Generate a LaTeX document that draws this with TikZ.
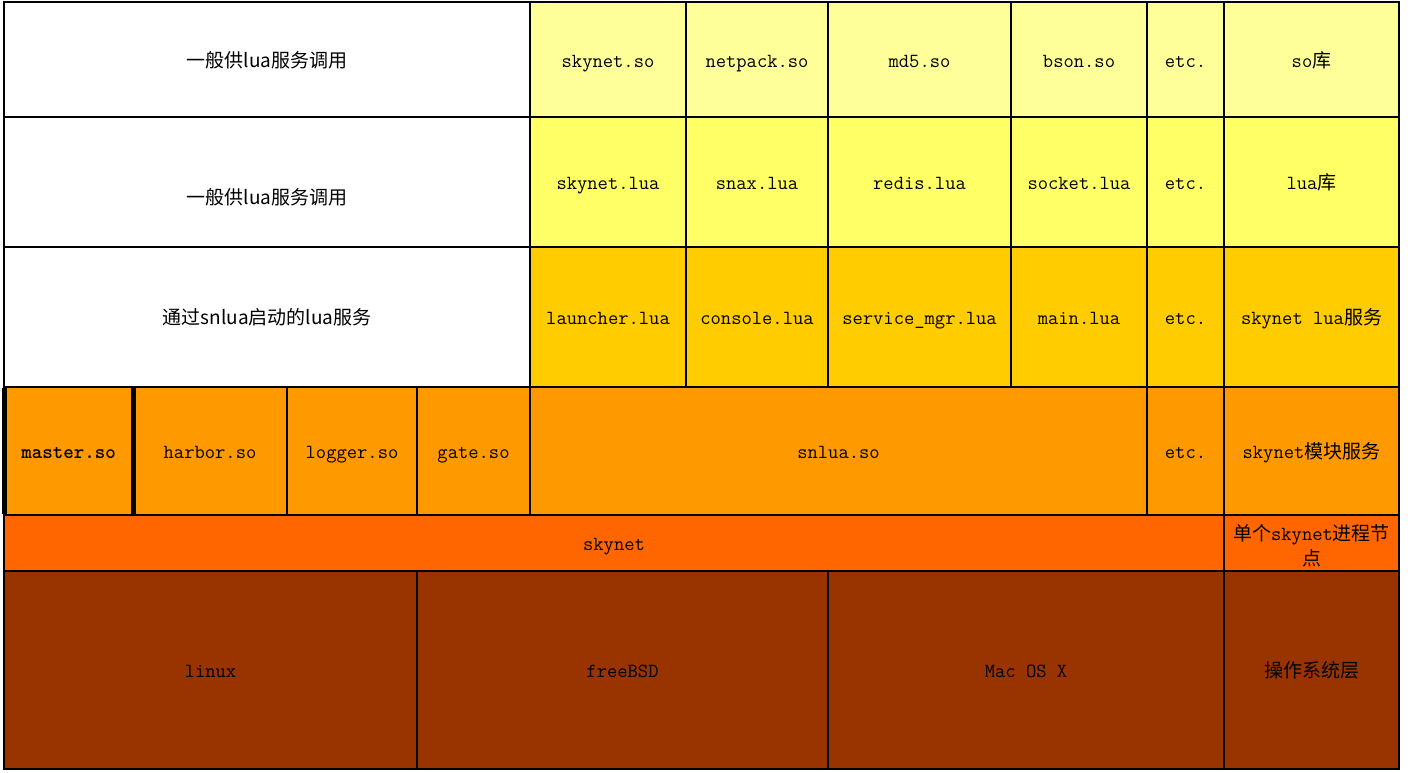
\documentclass[tikz,border=0pt]{standalone}
\usepackage{fontspec}
\newfontfamily\cjk{Noto Sans CJK SC}
\definecolor{soC}{HTML}{FFFF99}
\definecolor{luaC}{HTML}{FFFF66}
\definecolor{srvC}{HTML}{FFCC00}
\definecolor{modC}{HTML}{FF9900}
\definecolor{skyC}{HTML}{FF6600}
\definecolor{osC}{HTML}{993300}
\newcommand\zh[1]{{\cjk\fontsize{19}{22}\selectfont #1}}
\newcommand\cellbox[7]{\node[cellst, fill=#6, minimum width={#4-#2}, minimum height={#5-#3}] (#1) at ({(#2+#4)/2},{(#3+#5)/2}) {#7};}
\tikzset{
  cellst/.style={draw=black, line width=2pt, inner sep=0pt, outer sep=0pt, align=center,
    text height=18pt, text depth=3pt,
    font=\ttfamily\fontsize{20}{24}\selectfont},
}
\begin{document}
\begin{tikzpicture}[x=1pt,y=-1pt]
\useasboundingbox (0,0) rectangle (1408,772);
% row 1
\cellbox{w1}{4}{2}{530}{117}{white}{\zh{一般供lua服务调用}}
\cellbox{s1}{530}{2}{686}{117}{soC}{skynet.so}
\cellbox{s2}{686}{2}{828}{117}{soC}{netpack.so}
\cellbox{s3}{828}{2}{1011}{117}{soC}{md5.so}
\cellbox{s4}{1011}{2}{1147}{117}{soC}{bson.so}
\cellbox{s5}{1147}{2}{1224}{117}{soC}{etc.}
\cellbox{s6}{1224}{2}{1399}{117}{soC}{so\zh{库}}
% row 2
\cellbox{w2}{4}{117}{530}{247}{white}{\raisebox{-15pt}{\zh{一般供lua服务调用}}}
\cellbox{l1}{530}{117}{686}{247}{luaC}{skynet.lua}
\cellbox{l2}{686}{117}{828}{247}{luaC}{snax.lua}
\cellbox{l3}{828}{117}{1011}{247}{luaC}{redis.lua}
\cellbox{l4}{1011}{117}{1147}{247}{luaC}{socket.lua}
\cellbox{l5}{1147}{117}{1224}{247}{luaC}{etc.}
\cellbox{l6}{1224}{117}{1399}{247}{luaC}{lua\zh{库}}
% row 3
\cellbox{w3}{4}{247}{530}{387}{white}{\zh{通过snlua启动的lua服务}}
\cellbox{v1}{530}{247}{686}{387}{srvC}{launcher.lua}
\cellbox{v2}{686}{247}{828}{387}{srvC}{console.lua}
\cellbox{v3}{828}{247}{1011}{387}{srvC}{service\_mgr.lua}
\cellbox{v4}{1011}{247}{1147}{387}{srvC}{main.lua}
\cellbox{v5}{1147}{247}{1224}{387}{srvC}{etc.}
\cellbox{v6}{1224}{247}{1399}{387}{srvC}{skynet lua\zh{服务}}
% row 4
\cellbox{m1}{4}{387}{133}{515}{modC}{\bfseries master.so}
\cellbox{m2}{133}{387}{287}{515}{modC}{harbor.so}
\cellbox{m3}{287}{387}{417}{515}{modC}{logger.so}
\cellbox{m4}{417}{387}{530}{515}{modC}{gate.so}
\cellbox{m5}{530}{387}{1147}{515}{modC}{snlua.so}
\cellbox{m6}{1147}{387}{1224}{515}{modC}{etc.}
\cellbox{m7}{1224}{387}{1399}{515}{modC}{skynet\zh{模块服务}}
\draw[line width=5pt] ([yshift=-1pt]m1.north west) -- ([yshift=1pt]m1.south west);
\draw[line width=5pt] ([yshift=-1pt]m1.north east) -- ([yshift=1pt]m1.south east);
% row 5
\cellbox{k1}{4}{515}{1224}{571}{skyC}{skynet}
\cellbox{k2}{1224}{515}{1399}{571}{skyC}{\smash{\raisebox{-3pt}{\begin{tabular}[c]{@{}c@{}}\zh{单个}skynet\zh{进程节}\\[1pt]\zh{点}\end{tabular}}}}
% row 6
\cellbox{o1}{4}{571}{417}{769}{osC}{linux}
\cellbox{o2}{417}{571}{828}{769}{osC}{freeBSD}
\cellbox{o3}{828}{571}{1224}{769}{osC}{Mac OS X}
\cellbox{o4}{1224}{571}{1399}{769}{osC}{\zh{操作系统层}}
\end{tikzpicture}
\end{document}
